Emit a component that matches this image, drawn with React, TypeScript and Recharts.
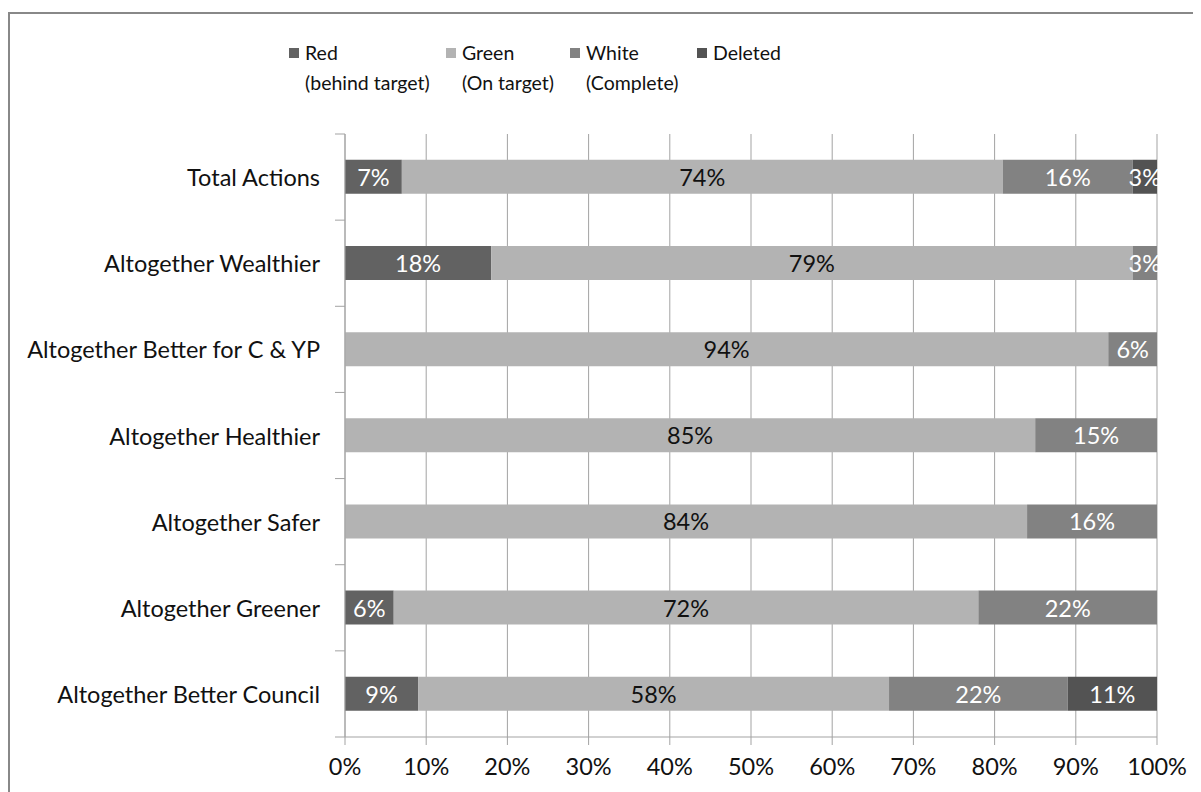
import React from 'react';
import { BarChart, Bar, XAxis, YAxis, CartesianGrid, LabelList } from 'recharts';

const categories = [
  'Total Actions',
  'Altogether Wealthier',
  'Altogether Better for C & YP',
  'Altogether Healthier',
  'Altogether Safer',
  'Altogether Greener',
  'Altogether Better Council',
];
const redVals = [7, 18, 0, 0, 0, 6, 9];
const greenVals = [74, 79, 94, 85, 84, 72, 58];
const whiteVals = [16, 3, 6, 15, 16, 22, 22];
const deletedVals = [3, 0, 0, 0, 0, 0, 11];
const xTicks = [0, 10, 20, 30, 40, 50, 60, 70, 80, 90, 100];

const seriesInfo = [
  { key: 'red', line1: 'Red', line2: '(behind target)', color: '#626262', text: '#ffffff' },
  { key: 'green', line1: 'Green', line2: '(On target)', color: '#b3b3b3', text: '#111111' },
  { key: 'white', line1: 'White', line2: '(Complete)', color: '#828282', text: '#ffffff' },
  { key: 'deleted', line1: 'Deleted', line2: '', color: '#535353', text: '#ffffff' },
];
const legendX = [281, 438, 562, 689];

const data = categories.map((name, i) => ({
  name,
  red: redVals[i],
  green: greenVals[i],
  white: whiteVals[i],
  deleted: deletedVals[i],
}));

const FONT = 'Lato, "Open Sans", sans-serif';
const GRID = '#a3a3a3';
const FS = 23.5;

const YTick = (props: any) => {
  const { x, y, payload, index } = props;
  const half = payload.offset || 43;
  return (
    <g>
      <text x={x - 25} y={y} textAnchor="end" dominantBaseline="central" fontSize={FS} fill="#111" fontFamily={FONT}>
        {payload.value}
      </text>
      <line x1={x - 10} x2={x} y1={y - half} y2={y - half} stroke={GRID} />
      {index === categories.length - 1 && <line x1={x - 10} x2={x} y1={y + half} y2={y + half} stroke={GRID} />}
    </g>
  );
};

const makeLabel = (color: string) => (props: any) => {
  const { x, y, width, height, value } = props;
  if (!value) return null;
  return (
    <text x={x + width / 2} y={y + height / 2} textAnchor="middle" dominantBaseline="central" fontSize={FS} fill={color} fontFamily={FONT}>
      {value}%
    </text>
  );
};

export default function App() {
  return (
    <div style={{ position: 'relative', width: 1193, height: 784, fontFamily: FONT }}>
      <style>{'body{overflow:hidden}'}</style>
      <div style={{ position: 'absolute', left: 0, top: 4, width: 1400, height: 1000, border: '2px solid #888', boxSizing: 'border-box' }} />
      {seriesInfo.map((s, i) => (
        <div key={s.key} style={{ position: 'absolute', left: legendX[i], top: 30, fontSize: 19.5, lineHeight: '30px', color: '#111' }}>
          <span style={{ position: 'absolute', left: 0, top: 10, width: 10, height: 10, background: s.color }} />
          <div style={{ marginLeft: 16 }}>{s.line1}</div>
          <div style={{ marginLeft: 16 }}>{s.line2}</div>
        </div>
      ))}
      <BarChart
        width={1193}
        height={784}
        data={data}
        layout="vertical"
        barCategoryGap="30%"
        margin={{ top: 126, right: 44, bottom: 15, left: 0 }}
        style={{ position: 'absolute', left: 0, top: 0 }}
      >
        <CartesianGrid horizontal={false} vertical stroke={GRID} />
        <XAxis
          type="number"
          domain={[0, 100]}
          ticks={xTicks}
          tickFormatter={(v: number) => `${v}%`}
          height={40}
          tickSize={8}
          tickMargin={13}
          stroke={GRID}
          tick={{ fill: '#111', fontSize: FS, fontFamily: FONT }}
          allowDataOverflow
        />
        <YAxis type="category" dataKey="name" width={337} tickSize={0} tickMargin={0} tickLine={false} stroke={GRID} tick={<YTick />} interval={0} />
        {seriesInfo.map((s) => (
          <Bar key={s.key} dataKey={s.key} stackId="a" fill={s.color} isAnimationActive={false}>
            <LabelList dataKey={s.key} content={makeLabel(s.text)} />
          </Bar>
        ))}
      </BarChart>
    </div>
  );
}
